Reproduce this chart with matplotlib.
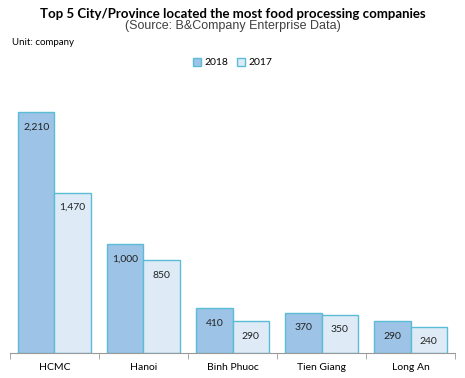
import numpy as np
import matplotlib.pyplot as plt

cities = ["HCMC", "Hanoi", "Binh Phuoc", "Tien Giang", "Long An"]
values_2018 = [2210, 1000, 410, 370, 290]
values_2017 = [1470, 850, 290, 350, 240]

plt.rcParams["font.family"] = ["Lato", "DejaVu Sans"]

fig = plt.figure(figsize=(4.65, 3.78), dpi=100)
ax = fig.add_axes([0.0215, 0.066, 0.957, 0.722])

x = np.arange(len(cities))
width = 0.405

bars_18 = ax.bar(x - width / 2, values_2018, width, color="#9DC3E6",
                 edgecolor="#5BBCD6", linewidth=1, label="2018")
bars_17 = ax.bar(x + width / 2, values_2017, width, color="#DEEBF7",
                 edgecolor="#5BBCD6", linewidth=1, label="2017")

for bars in (bars_18, bars_17):
    for bar in bars:
        h = bar.get_height()
        ax.annotate(f"{h:,.0f}", (bar.get_x() + bar.get_width() / 2, h),
                    xytext=(0, -7.5), textcoords="offset points",
                    ha="center", va="top", fontsize=7.5, color="#222222")

ax.set_xlim(-0.5, len(cities) - 0.5)
ax.set_ylim(0, 2500)
ax.set_xticks(x)
ax.set_xticklabels(cities, fontsize=7.5)
ax.set_xticks(np.arange(len(cities) + 1) - 0.5, minor=True)
ax.tick_params(axis="x", which="major", length=0, pad=7)
ax.tick_params(axis="x", which="minor", length=4, color="#999999")
ax.set_yticks([])
for side in ["top", "right", "left"]:
    ax.spines[side].set_visible(False)
ax.spines["bottom"].set_color("#999999")

fig.text(0.5, 0.963, "Top 5 City/Province located the most food processing companies",
         ha="center", va="center", fontsize=9.5, fontweight="bold")
fig.text(0.5, 0.93, "(Source: B&Company Enterprise Data)",
         ha="center", va="center", fontsize=9, family="Liberation Sans", color="#404040")
fig.text(0.025, 0.888, "Unit: company", ha="left", va="center", fontsize=7)

fig.legend(handles=[bars_18, bars_17], labels=["2018", "2017"],
           loc="center", bbox_to_anchor=(0.5, 0.835), ncol=2, frameon=False,
           fontsize=7.5, handlelength=0.8, handleheight=0.8,
           handletextpad=0.3, columnspacing=0.8)

fig.savefig("out.png", dpi=100)
